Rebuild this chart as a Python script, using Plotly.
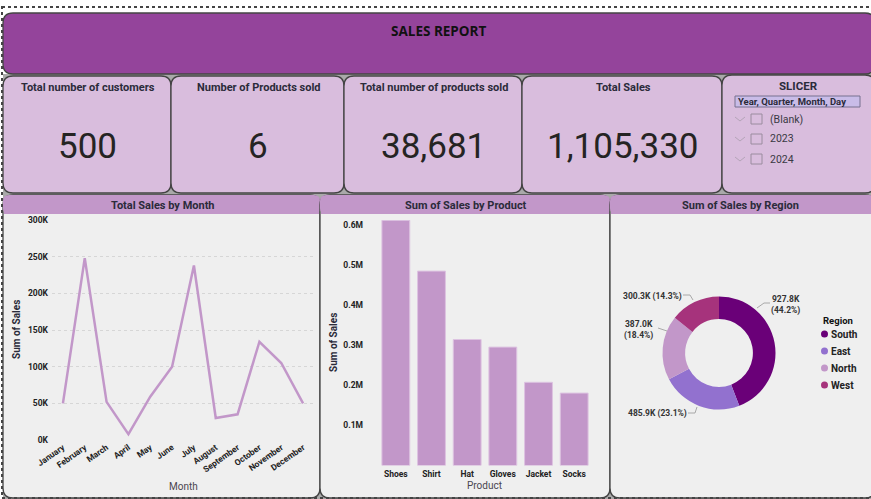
import plotly.graph_objects as go

W, H = 871, 499

months = ["January", "February", "March", "April", "May", "June", "July",
          "August", "September", "October", "November", "December"]
month_sales = [50000, 248000, 52000, 8000, 59000, 100000, 238000,
               30000, 35000, 134000, 105000, 50000]
month_ticks = [0, 50000, 100000, 150000, 200000, 250000, 300000]
month_tick_labels = ["0K", "50K", "100K", "150K", "200K", "250K", "300K"]

products = ["Shoes", "Shirt", "Hat", "Gloves", "Jacket", "Socks"]
product_sales = [613000, 486000, 315000, 296000, 208000, 181000]
product_ticks = [100000, 200000, 300000, 400000, 500000, 600000]
product_tick_labels = ["0.1M", "0.2M", "0.3M", "0.4M", "0.5M", "0.6M"]

regions = ["South", "East", "North", "West"]
region_sales = [927800, 485900, 387000, 300300]
region_labels = ["927.8K<br>(44.2%)", "485.9K (23.1%)", "387.0K<br>(18.4%)", "300.3K (14.3%)"]
region_colors = ["#6A0078", "#9271CF", "#C297C9", "#A6337C"]

kpi_titles = ["Total number of customers", "Number of Products sold",
              "Total number of products sold", "Total Sales"]
kpi_values = ["500", "6", "38,681", "1,105,330"]
panel_titles = ["Total Sales by Month", "Sum of Sales by Product", "Sum of Sales by Region"]
slicer_items = ["(Blank)", "2023", "2024"]

FONT = "Roboto"
TITLE_FONT = "Open Sans"
DARK = "#252423"
LILAC = "#C297C9"
KPI_BG = "#D9BDDD"
PANEL_BG = "#EFEFEF"
EDGE = "#444444"


# everything on the dashboard is placed in screen pixels
def fx(x):
    return x / W


def fy(y):
    return 1 - y / H


def round_rect(x0, y0, x1, y1, r, fill, line=EDGE, width=1.3):
    path = (f"M {fx(x0 + r)} {fy(y0)} L {fx(x1 - r)} {fy(y0)} "
            f"Q {fx(x1)} {fy(y0)} {fx(x1)} {fy(y0 + r)} L {fx(x1)} {fy(y1 - r)} "
            f"Q {fx(x1)} {fy(y1)} {fx(x1 - r)} {fy(y1)} L {fx(x0 + r)} {fy(y1)} "
            f"Q {fx(x0)} {fy(y1)} {fx(x0)} {fy(y1 - r)} L {fx(x0)} {fy(y0 + r)} "
            f"Q {fx(x0)} {fy(y0)} {fx(x0 + r)} {fy(y0)} Z")
    return dict(type="path", path=path, xref="paper", yref="paper", fillcolor=fill,
                line=dict(color=line, width=width), layer="below")


def rect(x0, y0, x1, y1, fill, line=None, width=1, dash="solid"):
    return dict(type="rect", xref="paper", yref="paper", x0=fx(x0), y0=fy(y0), x1=fx(x1), y1=fy(y1),
                fillcolor=fill, line=dict(color=line or fill, width=width if line else 0, dash=dash),
                layer="below")


def seg(pts, color="#A8A8A8", width=1):
    path = "M " + " L ".join(f"{fx(x)} {fy(y)}" for x, y in pts)
    return dict(type="path", path=path, xref="paper", yref="paper",
                line=dict(color=color, width=width), layer="below")


def text(x, y, s, size=11, color=DARK, family=FONT, xanchor="center", align="center", bold=False, angle=0):
    return dict(x=fx(x), y=fy(y), xref="paper", yref="paper", text=f"<b>{s}</b>" if bold else s,
                showarrow=False, xanchor=xanchor, yanchor="middle", align=align, textangle=angle,
                font=dict(size=size, color=color, family=family))


shapes = [rect(3, 74, 871, 499, "#A9A9A9")]
annotations = []

# header
shapes.append(round_rect(3, 13, 875, 74, 10, "#94449B"))
annotations.append(text(438, 31, "SALES REPORT", size=13.5, color="#111111", family=TITLE_FONT, bold=True))

# kpi cards
kpi_edges = [3, 171, 344, 522, 722]
for i in range(4):
    x0, x1 = kpi_edges[i], kpi_edges[i + 1]
    shapes.append(round_rect(x0, 76, x1, 193, 10, KPI_BG))
    annotations.append(text((x0 + x1) / 2 + 1, 87, kpi_titles[i], size=11, bold=True, color="#2B2B3A"))
    annotations.append(text((x0 + x1) / 2, 147, kpi_values[i], size=35, color="#252423"))

# slicer
shapes.append(round_rect(722, 75, 875, 193, 10, KPI_BG))
annotations.append(text(798, 86, "SLICER", size=11.5, bold=True, color="#2B2B3A"))
shapes.append(rect(735, 96, 860, 107, "#C9BCE8", line="#77708F", width=1))
annotations.append(text(736, 102, "Year, Quarter, Month, Day", size=9.5, bold=True, color="#2B2B3A", xanchor="left"))
for i, item in enumerate(slicer_items):
    y = 119 + i * 20
    shapes.append(seg([(735, y - 2), (740, y + 2), (745, y - 2)], color="#B4A4B8"))
    shapes.append(rect(751, y - 5, 762, y + 5, "#D9BDDD", line="#9A8C9E", width=1))
    annotations.append(text(768, y, item, size=10.5, color="#3A3A44", xanchor="left"))

# chart panels
panel_edges = [3, 320, 610, 875]
for i in range(3):
    x0, x1 = panel_edges[i], panel_edges[i + 1]
    shapes.append(round_rect(x0, 195, x1, 498, 10, PANEL_BG))
    shapes.append(round_rect(x0, 195, x1, 214, 6, LILAC, line=LILAC, width=0))
    shapes.append(rect(x0 + 1, 205, x1 - 1, 214, LILAC))
    annotations.append(text((min(x1, 871) + x0) / 2 + (1 if i < 2 else 0), 205, panel_titles[i], size=11, bold=True, color="#2B2B3A"))

# dotted page outline
shapes.append(rect(2, 7, 880, 498, "rgba(0,0,0,0)", line="#444444", width=2, dash="dot"))

# axis titles
annotations.append(text(16, 330, "Sum of Sales", size=10, bold=True, color="#2B2B3A", angle=-90))
annotations.append(text(183, 486, "Month", size=10, color="#4A4650"))
annotations.append(text(333, 343, "Sum of Sales", size=10, bold=True, color="#2B2B3A", angle=-90))
annotations.append(text(485, 485, "Product", size=10, color="#4A4650"))

# donut labels and leader lines
label_pos = [(785, 305), (657, 413), (638, 330), (652, 296)]
leaders = [[(757, 308), (764, 303), (770, 303)],
           [(697, 407), (695, 413), (688, 413)],
           [(667, 331), (664, 330), (658, 328)],
           [(693, 300), (690, 295), (683, 295)]]
for i in range(4):
    annotations.append(text(label_pos[i][0], label_pos[i][1], region_labels[i], size=8.5, bold=True, color="#333333"))
    shapes.append(seg(leaders[i]))

# donut legend
annotations.append(text(821, 320, "Region", size=9.5, bold=True, color="#111111", xanchor="left"))
for i, r in enumerate(regions):
    y = 334 + i * 17
    shapes.append(dict(type="circle", xref="paper", yref="paper", x0=fx(821), x1=fx(828), y0=fy(y + 3.5), y1=fy(y - 3.5),
                       fillcolor=region_colors[i], line=dict(width=0), layer="below"))
    annotations.append(text(829, y, r, size=10, bold=True, color="#222222", xanchor="left"))

fig = go.Figure()

fig.add_trace(go.Scatter(x=months, y=month_sales, mode="lines", xaxis="x", yaxis="y",
                         line=dict(color=LILAC, width=2.5), showlegend=False))
fig.add_trace(go.Bar(x=products, y=product_sales, xaxis="x2", yaxis="y2", showlegend=False,
                     marker=dict(color=LILAC, line=dict(color="#DDC3E1", width=1))))
fig.add_trace(go.Pie(labels=regions, values=region_sales, hole=0.6, sort=False, direction="clockwise",
                     rotation=0, textinfo="none", showlegend=False,
                     marker=dict(colors=region_colors),
                     domain=dict(x=[fx(719 - 56.5), fx(719 + 56.5)], y=[fy(353 + 56.5), fy(353 - 56.5)])))

tick_font = dict(size=8.5, color="#222222", family=FONT, weight="bold")
fig.update_layout(
    width=W, height=H,
    margin=dict(l=0, r=0, t=0, b=0),
    paper_bgcolor="white", plot_bgcolor="rgba(0,0,0,0)",
    bargap=0.22,
    shapes=shapes, annotations=annotations,
    xaxis=dict(domain=[fx(52), fx(314)], anchor="y", tickangle=-35, tickfont=tick_font, automargin=False,
               showgrid=False, zeroline=False, showline=False, ticks="", range=[-0.5, 11.5]),
    yaxis=dict(domain=[fy(440), fy(220)], anchor="x", range=[0, 300000], tickvals=month_ticks, automargin=False,
               ticktext=month_tick_labels, tickfont=tick_font, zeroline=False, showline=False,
               gridcolor="#D6D6D6", griddash="dot", gridwidth=1, ticklabelstandoff=3),
    xaxis2=dict(domain=[fx(378), fx(592)], anchor="y2", tickfont=tick_font, showgrid=False, automargin=False,
                zeroline=False, showline=False, ticks="", ticklabelstandoff=2),
    yaxis2=dict(domain=[fy(465.5), fy(220)], anchor="x2", range=[0, 613750], tickvals=product_ticks, automargin=False,
                ticktext=product_tick_labels, tickfont=tick_font, showgrid=False, zeroline=False,
                showline=False, ticklabelstandoff=14),
)

fig.write_html("out.html", config=dict(displayModeBar=False),
               post_script="document.body.style.margin='0';")
